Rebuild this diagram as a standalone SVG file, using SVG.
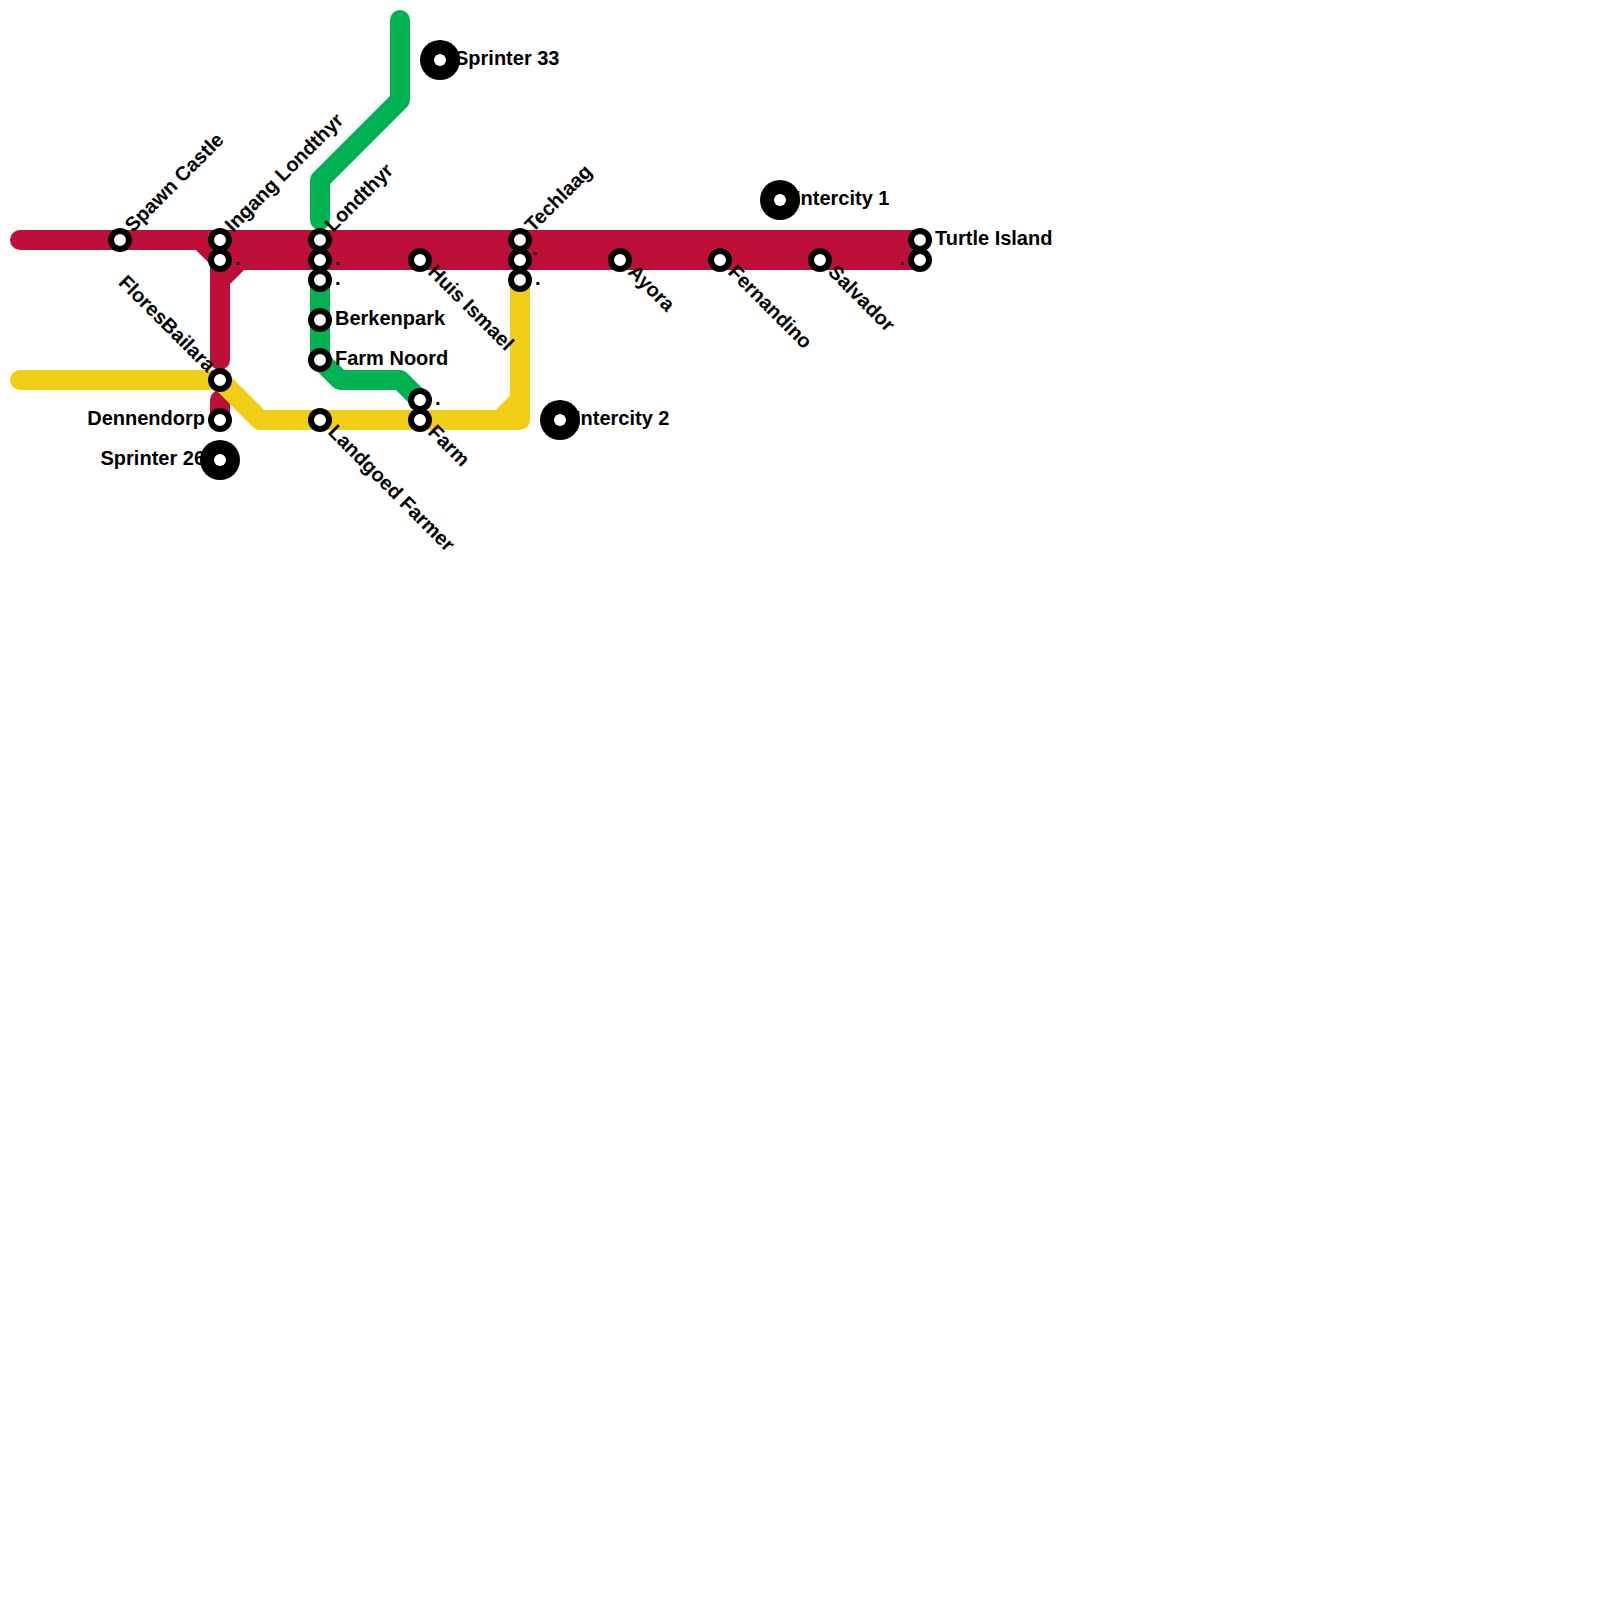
<svg xmlns="http://www.w3.org/2000/svg" width="1600" height="1600" viewBox="0 0 1600 1600">
<style>
.l{fill:none;stroke-width:20;stroke-linecap:round;stroke-linejoin:round}
.r{stroke:#bd1038}.g{stroke:#00b251}.y{stroke:#f0ce15}
.s{fill:#fff;stroke:#000;stroke-width:6}
.i{fill:#000}.c{fill:#fff}
text{font-family:"Liberation Sans",Arial,sans-serif;font-weight:700;font-size:20px;fill:#000}
</style>
<g id="connectors">
<path class="l g" d="M400 20V100L320 180V220"/>
<path class="l g" d="M320 280V360L340 380H400L420 400"/>
<path class="l r" d="M20 240H920M200 240L220 260H920M240 260L220 280M220 260V360M220 400V420"/>
<path class="l y" d="M20 380H220L260 420H520V280M500 420L520 400"/>
</g>
<g id="n1"><circle class="s" cx="120" cy="240" r="9"/><text transform="translate(133 233) rotate(-45)">Spawn Castle</text></g>
<g id="n2"><circle class="s" cx="220" cy="240" r="9"/><text transform="translate(233 233) rotate(-45)">Ingang Londthyr</text></g>
<g id="n3"><circle class="s" cx="220" cy="260" r="9"/><text x="235" y="265">.</text></g>
<g id="n4"><circle class="s" cx="220" cy="380" r="9"/><text transform="translate(207 373) rotate(45)" text-anchor="end">FloresBailara</text></g>
<g id="n5"><circle class="s" cx="220" cy="420" r="9"/><text x="205" y="425" text-anchor="end">Dennendorp</text></g>
<g id="n6"><text x="205" y="465" text-anchor="end">Sprinter 26</text><circle class="i" cx="220" cy="460" r="20"/><circle class="c" cx="220" cy="460" r="6"/></g>
<g id="n7"><circle class="s" cx="320" cy="240" r="9"/><text transform="translate(333 233) rotate(-45)">Londthyr</text></g>
<g id="n8"><circle class="s" cx="320" cy="260" r="9"/><text x="335" y="265">.</text></g>
<g id="n9"><circle class="s" cx="320" cy="280" r="9"/><text x="335" y="285">.</text></g>
<g id="n10"><circle class="s" cx="320" cy="320" r="9"/><text x="335" y="325">Berkenpark</text></g>
<g id="n11"><circle class="s" cx="320" cy="360" r="9"/><text x="335" y="365">Farm Noord</text></g>
<g id="n12"><circle class="s" cx="320" cy="420" r="9"/><text transform="translate(327 433) rotate(45)">Landgoed Farmer</text></g>
<g id="n13"><circle class="s" cx="420" cy="260" r="9"/><text transform="translate(427 273) rotate(45)">Huis Ismael</text></g>
<g id="n14"><circle class="s" cx="420" cy="400" r="9"/><text x="435" y="405">.</text></g>
<g id="n15"><circle class="s" cx="420" cy="420" r="9"/><text transform="translate(427 433) rotate(45)">Farm</text></g>
<g id="n16"><circle class="i" cx="440" cy="60" r="20"/><circle class="c" cx="440" cy="60" r="6"/><text x="455" y="65">Sprinter 33</text></g>
<g id="n17"><circle class="s" cx="520" cy="240" r="9"/><text transform="translate(533 233) rotate(-45)">Techlaag</text><text x="532" y="255">.</text></g>
<g id="n18"><circle class="s" cx="520" cy="260" r="9"/></g>
<g id="n19"><circle class="s" cx="520" cy="280" r="9"/><text x="535" y="285">.</text></g>
<g id="n20"><circle class="i" cx="560" cy="420" r="20"/><circle class="c" cx="560" cy="420" r="6"/><text x="575" y="425">Intercity 2</text></g>
<g id="n21"><circle class="s" cx="620" cy="260" r="9"/><text transform="translate(627 273) rotate(45)">Ayora</text></g>
<g id="n22"><circle class="s" cx="720" cy="260" r="9"/><text transform="translate(727 273) rotate(45)">Fernandino</text></g>
<g id="n23"><circle class="i" cx="780" cy="200" r="20"/><circle class="c" cx="780" cy="200" r="6"/><text x="795" y="205">Intercity 1</text></g>
<g id="n24"><circle class="s" cx="820" cy="260" r="9"/><text transform="translate(827 273) rotate(45)">Salvador</text></g>
<g id="n25"><circle class="s" cx="920" cy="240" r="9"/><text x="935" y="245">Turtle Island</text></g>
<g id="n26"><circle class="s" cx="920" cy="260" r="9"/><text x="905" y="265" text-anchor="end">.</text></g>
</svg>
